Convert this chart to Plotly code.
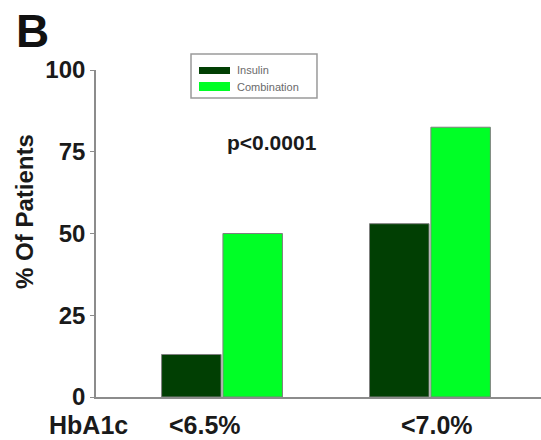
import plotly.graph_objects as go

categories = ["<6.5%", "<7.0%"]
insulin = [13, 53]
combination = [50, 82.5]
y_ticks = [0, 25, 50, 75, 100]
series_names = ["Insulin", "Combination"]
series_colors = ["#013f03", "#00ff26"]

font_family = "Liberation Sans, Arial, sans-serif"
text_color = "#1a1a1a"

fig = go.Figure()
for name, values, color in zip(series_names, [insulin, combination], series_colors):
    fig.add_trace(go.Bar(
        x=categories, y=values, name=name, showlegend=False,
        marker=dict(color=color, line=dict(color="#7f7f7f", width=1)),
    ))

fig.update_layout(
    width=541, height=440,
    margin=dict(l=96, r=0, t=70, b=43),
    plot_bgcolor="white", paper_bgcolor="white",
    barmode="group", bargap=0.41, bargroupgap=0.03,
    font=dict(family=font_family, color=text_color),
    xaxis=dict(
        type="category", range=[-0.606, 1.534],
        showline=True, linecolor="#8c8c8c", linewidth=1.6,
        ticks="", showgrid=False, showticklabels=False,
    ),
    yaxis=dict(
        range=[0, 100], tickvals=y_ticks,
        ticktext=["<b>%d</b>" % v for v in y_ticks],
        showline=True, linecolor="#8c8c8c", linewidth=1.6,
        ticks="outside", ticklen=4, tickcolor="#8c8c8c", showgrid=False,
        zeroline=False,
        tickfont=dict(size=24, family=font_family, color=text_color),
    ),
)

# category labels under each bar group
label_shift = [-17, 7]
label_y = -0.086
for cat, dx in zip(categories, label_shift):
    fig.add_annotation(text="<b>%s</b>" % cat, xref="x", yref="paper", x=cat, y=label_y,
                       xshift=dx, xanchor="center", yanchor="middle", showarrow=False,
                       borderpad=0, font=dict(size=25, color=text_color))

# y axis title
fig.add_annotation(text="<b>% Of Patients</b>", xref="paper", yref="paper",
                   x=-0.1596, y=0.569, textangle=-90, xanchor="center", yanchor="middle",
                   showarrow=False, font=dict(size=24, color=text_color))

# panel letter, axis caption and significance label
fig.add_annotation(text="<b>B</b>", xref="paper", yref="paper", x=-0.1416, y=1.119,
                   xanchor="center", yanchor="middle", showarrow=False,
                   font=dict(size=46, color="#111111"))
fig.add_annotation(text="<b>HbA1c</b>", xref="paper", yref="paper", x=-0.0169, y=label_y,
                   xanchor="center", yanchor="middle", showarrow=False,
                   borderpad=0, font=dict(size=25, color=text_color))
fig.add_annotation(text="<b>p<0.0001</b>", xref="paper", yref="paper", x=0.3955, y=0.777,
                   xanchor="center", yanchor="middle", showarrow=False,
                   font=dict(size=21, color=text_color))

# legend box with wide colour swatches
fig.add_shape(type="rect", xref="paper", yref="paper",
              x0=0.2135, x1=0.4966, y0=0.9144, y1=1.0489,
              line=dict(color="#9a9a9a", width=1.5), fillcolor="white", layer="above")
swatch_rows = [(1.0092, 0.9878, 1.000), (0.9633, 0.9358, 0.949)]
for name, color, (top, bottom, mid) in zip(series_names, series_colors, swatch_rows):
    fig.add_shape(type="rect", xref="paper", yref="paper",
                  x0=0.2315, x1=0.3011, y0=bottom, y1=top,
                  line=dict(color=color, width=0), fillcolor=color, layer="above")
    fig.add_annotation(text=name, xref="paper", yref="paper", x=0.3124, y=mid,
                       xanchor="left", yanchor="middle", showarrow=False,
                       font=dict(size=11, color="#6a6a6a"))

fig.write_html("out.html")
